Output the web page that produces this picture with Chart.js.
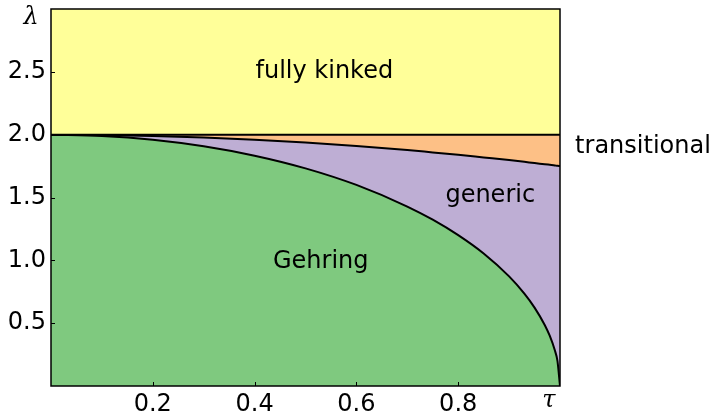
<!DOCTYPE html>
<html>
<head>
<meta charset="utf-8">
<script src="https://cdn.jsdelivr.net/npm/chart.js@4.4.0/dist/chart.umd.min.js"></script>
<style>
  html, body { margin: 0; padding: 0; background: #fff; }
  #wrap { width: 718px; height: 414px; }
</style>
</head>
<body>
<div id="wrap"><canvas id="phaseChart" width="718" height="414"></canvas></div>
<script>
// tau grid shared by all boundary curves (denser near tau = 1 where the Gehring edge drops)
const tau = [0, 0.1, 0.2, 0.3, 0.4, 0.5, 0.6, 0.7, 0.75, 0.8, 0.85, 0.9, 0.93, 0.95, 0.97, 0.98, 0.99, 0.995, 1];
// fully kinked / transitional boundary
const kinkedEdge = [2, 2, 2, 2, 2, 2, 2, 2, 2, 2, 2, 2, 2, 2, 2, 2, 2, 2, 2];
// transitional / generic boundary
const transEdge = [2.0, 1.998, 1.99, 1.978, 1.96, 1.938, 1.91, 1.878, 1.859, 1.84, 1.819, 1.798, 1.784, 1.774, 1.765, 1.76, 1.755, 1.752, 1.75];
// generic / Gehring boundary
const gehringEdge = [2.0, 1.99, 1.96, 1.908, 1.833, 1.732, 1.6, 1.428, 1.323, 1.2, 1.054, 0.872, 0.735, 0.624, 0.486, 0.398, 0.282, 0.2, 0];

const xTicks = [0.2, 0.4, 0.6, 0.8];
const yTicks = [0.5, 1.0, 1.5, 2.0, 2.5];

const regionLabels = [
  { text: 'fully kinked', x: 0.537, y: 2.5 },
  { text: 'generic', x: 0.863, y: 1.51 },
  { text: 'Gehring', x: 0.53, y: 0.99 },
  { text: 'transitional', x: 1.163, y: 1.9 }
];

const colors = {
  yellow: '#ffff99',
  orange: '#fdc086',
  purple: '#beaed4',
  green: '#7fc97f'
};

const pts = arr => tau.map((t, i) => ({ x: t, y: arr[i] }));
const FONT = '"DejaVu Sans", sans-serif';

const lineBase = {
  borderColor: '#000',
  borderWidth: 2,
  pointRadius: 0,
  cubicInterpolationMode: 'monotone'
};

// inward tick marks, axis symbols and region names
const decorations = {
  id: 'decorations',
  afterDatasetsDraw(chart) {
    const { ctx, chartArea: a, scales: { x, y } } = chart;
    ctx.save();
    ctx.strokeStyle = '#000';
    ctx.lineWidth = 1;
    ctx.beginPath();
    yTicks.forEach(v => {
      const py = Math.round(y.getPixelForValue(v)) + 0.5;
      ctx.moveTo(a.left, py);
      ctx.lineTo(a.left + 4, py);
    });
    xTicks.forEach(v => {
      const px = Math.round(x.getPixelForValue(v)) + 0.5;
      ctx.moveTo(px, a.bottom);
      ctx.lineTo(px, a.bottom - 4);
    });
    ctx.stroke();

    ctx.lineWidth = 1.5;
    ctx.strokeRect(a.left, a.top, a.right - a.left, a.bottom - a.top);

    ctx.fillStyle = '#000';
    ctx.textAlign = 'center';
    ctx.textBaseline = 'middle';
    ctx.font = '24px ' + FONT;
    regionLabels.forEach(l => {
      ctx.fillText(l.text, x.getPixelForValue(l.x), y.getPixelForValue(l.y));
    });

    ctx.font = 'italic 24px "DejaVu Serif", "Liberation Serif", serif';
    ctx.fillText('λ', a.left - 20, a.top + 9);
    ctx.fillText('τ', a.right - 11, a.bottom + 15);
    ctx.restore();
  }
};

new Chart(document.getElementById('phaseChart'), {
  type: 'line',
  data: {
    datasets: [
      {
        ...lineBase,
        data: pts(kinkedEdge),
        fill: 'end',
        backgroundColor: colors.yellow
      },
      {
        ...lineBase,
        data: pts(transEdge),
        fill: '-1',
        backgroundColor: colors.orange
      },
      {
        ...lineBase,
        data: pts(gehringEdge),
        fill: '-1',
        backgroundColor: colors.purple
      },
      {
        ...lineBase,
        borderWidth: 0,
        data: pts(gehringEdge),
        fill: 'origin',
        backgroundColor: colors.green
      }
    ]
  },
  options: {
    responsive: false,
    animation: false,
    layout: { padding: { top: 9, right: 158, left: 0, bottom: 0 } },
    plugins: {
      legend: { display: false },
      tooltip: { enabled: false }
    },
    scales: {
      x: {
        type: 'linear',
        min: 0,
        max: 1,
        grid: { display: false, drawTicks: false },
        border: { display: false },
        afterFit: s => {
          s.height = 28;
          s.paddingLeft = 0;
          s.paddingRight = 0;
        },
        afterBuildTicks: s => { s.ticks = xTicks.map(v => ({ value: v })); },
        ticks: {
          color: '#000',
          padding: 4,
          maxRotation: 0,
          font: { family: FONT, size: 24 },
          callback: v => v.toFixed(1)
        }
      },
      y: {
        type: 'linear',
        min: 0,
        max: 3,
        grid: { display: false, drawTicks: false },
        border: { display: false },
        afterFit: s => {
          s.width = 51;
          s.paddingTop = 0;
          s.paddingBottom = 0;
        },
        afterBuildTicks: s => { s.ticks = yTicks.map(v => ({ value: v })); },
        ticks: {
          color: '#000',
          padding: 5,
          font: { family: FONT, size: 24 },
          callback: v => v.toFixed(1)
        }
      }
    }
  },
  plugins: [decorations]
});
</script>
</body>
</html>
